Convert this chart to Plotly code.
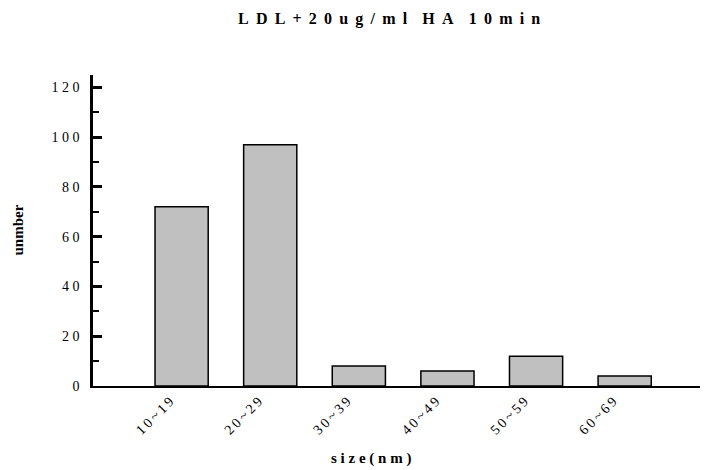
import plotly.graph_objects as go

categories = ["10~19", "20~29", "30~39", "40~49", "50~59", "60~69"]
counts = [72, 97, 8, 6, 12, 4]
y_ticks = [0, 20, 40, 60, 80, 100, 120]

NB = "\u00a0"
TS = "\u2009"

def spaced(s, gap, word_gap=None):
    # mimic the letter-spaced typesetting of the original
    words = s.split(" ")
    wg = word_gap if word_gap is not None else gap + NB
    return wg.join(gap.join(list(w)) for w in words)

title_text = "LDL+20ug/ml HA 10min"
x_title = "size(nm)"
y_title = "unmber"

FONT = "Liberation Serif, Times New Roman, serif"

fig = go.Figure()
fig.add_trace(go.Bar(
    x=categories, y=counts, width=0.6,
    marker=dict(color="#c0c0c0", line=dict(color="#000000", width=1.5)),
))

L, R, T, B = 93, 9, 75, 84
fig.update_layout(
    width=709, height=470,
    margin=dict(l=L, r=R, t=T, b=B),
    paper_bgcolor="white", plot_bgcolor="white",
    showlegend=False,
    font=dict(family=FONT, color="black", size=13),
    xaxis=dict(
        type="category", range=[-1, 5.85],
        showline=True, linecolor="black", linewidth=1.5,
        ticks="", tickangle=-45, showgrid=False, zeroline=False,
        tickvals=categories, ticktext=[spaced(c, TS) for c in categories],
        tickfont=dict(family=FONT, size=14), ticklabelshift=-12, ticklabelstandoff=0,
    ),
    yaxis=dict(
        range=[0, 125], showline=True, linecolor="black", linewidth=2.5,
        tickvals=y_ticks, ticktext=[spaced(str(v), NB) for v in y_ticks],
        ticks="inside", ticklen=9, tickwidth=2.5, tickcolor="black",
        minor=dict(ticks="inside", ticklen=6, tickwidth=1.5, tickcolor="black", dtick=10),
        showgrid=False, zeroline=False, ticklabelstandoff=8,
        tickfont=dict(family=FONT, size=14),
    ),
    annotations=[
        dict(text="<b>" + spaced(title_text, NB + TS, NB + TS + NB + NB) + "</b>", xref="paper", yref="paper",
             x=(389 - L) / (709 - L - R), y=1, yshift=75 - 19, xanchor="center", yanchor="middle",
             showarrow=False, font=dict(family=FONT, size=16)),
        dict(text="<b>" + spaced(x_title, NB) + "</b>", xref="paper", yref="paper",
             x=(371 - L) / (709 - L - R), y=0, yshift=-72, xanchor="center", yanchor="middle",
             showarrow=False, font=dict(family=FONT, size=15)),
        dict(text="<b>" + y_title + "</b>", xref="paper", yref="paper",
             x=0, xshift=-(L - 17), y=0.5, xanchor="center", yanchor="middle", textangle=-90,
             showarrow=False, font=dict(family=FONT, size=15)),
    ],
)

fig.write_html("out.html")
